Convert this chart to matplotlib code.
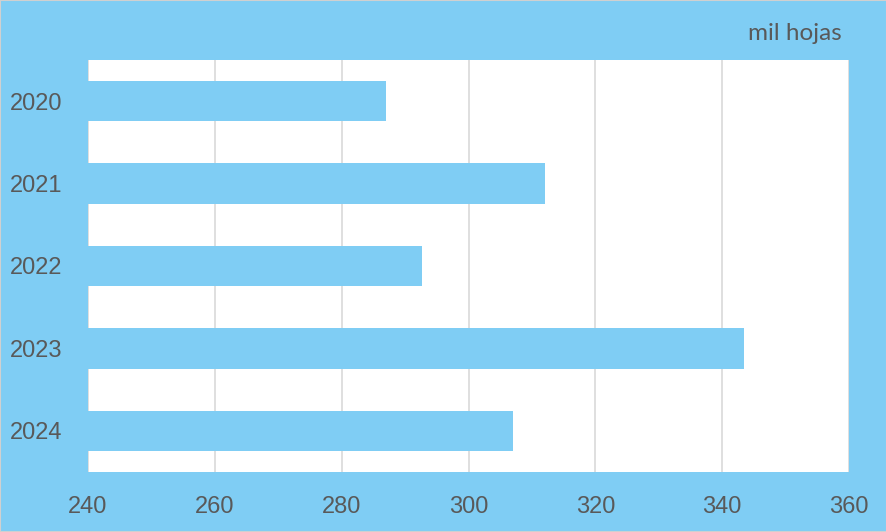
import matplotlib
matplotlib.use("Agg")
import matplotlib.pyplot as plt

years = ["2020", "2021", "2022", "2023", "2024"]
values = [287.0, 312.0, 292.7, 343.4, 307.0]
xticks = [240, 260, 280, 300, 320, 340, 360]
unit_label = "mil hojas"

bg = "#7FCDF4"
bar_color = "#7FCDF4"
text_color = "#595959"

fig = plt.figure(figsize=(8.87, 5.32), dpi=100)
fig.patch.set_facecolor(bg)
ax = fig.add_axes([88/887, 1-472/532, (849-88)/887, (472-60)/532])
ax.set_facecolor("white")

ypos = list(range(len(years)))
ax.barh(ypos, [v - 240 for v in values], left=240, height=0.49, color=bar_color, zorder=3)
ax.set_ylim(len(years) - 0.5, -0.5)
ax.set_xlim(240, 360)
ax.set_yticks(ypos)
ax.set_yticklabels(years, fontsize=17, color=text_color, family="Liberation Sans")
ax.set_xticks(xticks)
ax.set_xticklabels([str(t) for t in xticks], fontsize=17, color=text_color, family="Liberation Sans")
ax.tick_params(axis="y", length=0, pad=18.5)
ax.tick_params(axis="x", length=0, pad=17)
ax.grid(axis="x", color="#D9D9D9", linewidth=1.2, zorder=0)
for s in ax.spines.values():
    s.set_visible(False)

fig.text(842/887, 1-33/532, unit_label, ha="right", va="center", fontsize=17.5, color=text_color, family="Lato")

# thin light border around the figure
fig.add_artist(plt.Rectangle((0, 0), 1, 1, transform=fig.transFigure, fill=False,
                             edgecolor="#D0D0D0", linewidth=1.5))

fig.savefig("out.png", dpi=100, facecolor=bg)
